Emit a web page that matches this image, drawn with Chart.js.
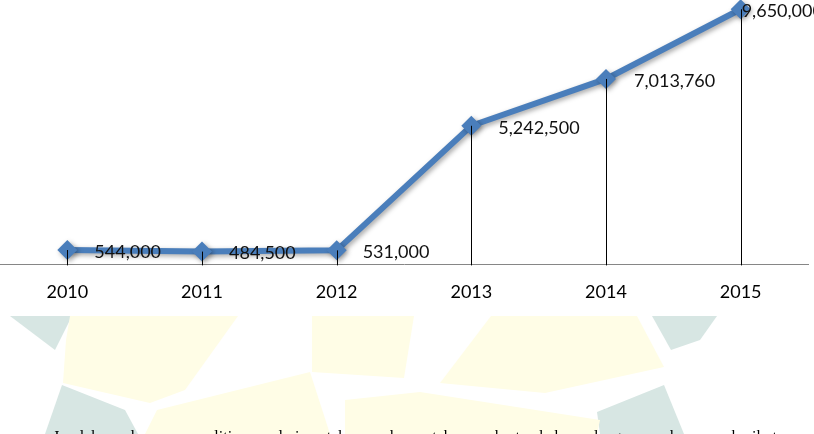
<!DOCTYPE html>
<html>
<head>
<meta charset="utf-8">
<script src="https://cdn.jsdelivr.net/npm/chart.js@4/dist/chart.umd.min.js"></script>
<style>
  html, body { margin: 0; padding: 0; background: #ffffff; }
  #wrap { position: relative; width: 814px; height: 434px; }
</style>
</head>
<body>
<div id="wrap"><canvas id="c"></canvas></div>
<script>
// ---- data ----
const categories = ['2010', '2011', '2012', '2013', '2014', '2015'];
const fundValues = [544000, 484500, 531000, 5242500, 7013760, 9650000];
const yRange = [0, 10000000];
const captionText = 'Jumlah dana penelitian dari tahun ke tahun bertambah dengan skema berikut';

// ---- styles ----
const lineColor = '#4A7EBB';
const labelFont = '18px Lato';
const labelDX = [27, 27, 26, 27, 28, 1];
const labelDY = 2;

function fmt(v) { return v.toLocaleString('en-US'); }

const watermarkPlugin = {
  id: 'watermark',
  beforeDraw(chart) {
    const ctx = chart.ctx;
    ctx.save();
    ctx.fillStyle = '#ffffff';
    ctx.fillRect(0, 0, chart.width, chart.height);
    const teal = 'rgb(215,230,227)';
    const yellow = 'rgb(255,253,230)';
    const polys = [
      [teal, [[10,316],[72,316],[55,350]]],
      [teal, [[62,385],[125,410],[138,434],[45,434]]],
      [teal, [[652,316],[717,316],[700,340],[671,350]]],
      [teal, [[597,412],[664,385],[684,434],[600,434]]],
      [yellow, [[70,316],[238,316],[185,390],[150,403],[63,383],[66,340]]],
      [yellow, [[157,410],[310,372],[330,434],[145,434]]],
      [yellow, [[312,316],[414,316],[404,378],[312,372]]],
      [yellow, [[491,316],[637,316],[664,367],[545,393],[440,383]]],
      [yellow, [[345,400],[420,392],[600,420],[597,434],[345,434]]]
    ];
    polys.forEach(([col, pts]) => {
      ctx.fillStyle = col;
      ctx.beginPath();
      pts.forEach((p, i) => i ? ctx.lineTo(p[0], p[1]) : ctx.moveTo(p[0], p[1]));
      ctx.closePath();
      ctx.fill();
    });
    ctx.restore();
  },
  afterDraw(chart) {
    // caption text below the figure (only its top is visible)
    const ctx = chart.ctx;
    ctx.save();
    ctx.font = '16px "Liberation Serif"';
    ctx.fillStyle = '#000';
    ctx.textBaseline = 'alphabetic';
    const words = captionText.split(' ');
    const x0 = 53, x1 = 777;
    const widths = words.map(w => ctx.measureText(w).width);
    const total = widths.reduce((a, b) => a + b, 0);
    const gap = (x1 - x0 - total) / (words.length - 1);
    let x = x0;
    words.forEach((w, i) => { ctx.fillText(w, x, 442); x += widths[i] + gap; });
    ctx.restore();
  }
};

const shadowPlugin = {
  id: 'lineShadow',
  beforeDatasetDraw(chart) {
    const ctx = chart.ctx;
    ctx.save();
    ctx.shadowColor = 'rgba(0,0,0,0.35)';
    ctx.shadowBlur = 5;
    ctx.shadowOffsetX = 2;
    ctx.shadowOffsetY = 2;
  },
  afterDatasetDraw(chart) {
    chart.ctx.restore();
  }
};

const dropAndLabelPlugin = {
  id: 'dropLabels',
  afterDatasetsDraw(chart) {
    const ctx = chart.ctx;
    const meta = chart.getDatasetMeta(0);
    const yBase = chart.scales.y.getPixelForValue(0);
    ctx.save();
    ctx.strokeStyle = '#000000';
    ctx.lineWidth = 1;
    meta.data.forEach((pt) => {
      const x = Math.round(pt.x) + 0.5;
      ctx.beginPath();
      ctx.moveTo(x, pt.y);
      ctx.lineTo(x, yBase + 1);
      ctx.stroke();
    });
    ctx.font = labelFont;
    ctx.fillStyle = '#111111';
    ctx.textBaseline = 'middle';
    ctx.textAlign = 'left';
    meta.data.forEach((pt, i) => {
      ctx.fillText(fmt(fundValues[i]), pt.x + labelDX[i], pt.y + labelDY);
    });
    ctx.restore();
  }
};

new Chart(document.getElementById('c'), {
  type: 'line',
  data: {
    labels: categories,
    datasets: [{
      data: fundValues,
      borderColor: lineColor,
      backgroundColor: lineColor,
      borderWidth: 6,
      pointStyle: 'rectRot',
      pointRadius: 10,
      pointHoverRadius: 10,
      pointBackgroundColor: lineColor,
      pointBorderColor: lineColor,
      pointBorderWidth: 0,
      tension: 0,
      fill: false,
      clip: false
    }]
  },
  options: {
    responsive: true,
    maintainAspectRatio: false,
    animation: false,
    events: [],
    layout: { autoPadding: false, padding: { left: 0, right: 6, top: 0, bottom: 114 } },
    plugins: { legend: { display: false }, tooltip: { enabled: false }, title: { display: false } },
    scales: {
      x: {
        offset: true,
        grid: { display: false, drawTicks: false },
        border: { display: true, color: '#868686', width: 1 },
        ticks: { color: '#000000', font: { family: 'Lato', size: 18 }, padding: 17, maxRotation: 0 }
      },
      y: {
        display: false,
        min: yRange[0],
        max: yRange[1]
      }
    }
  },
  plugins: [watermarkPlugin, shadowPlugin, dropAndLabelPlugin]
});
</script>
</body>
</html>
